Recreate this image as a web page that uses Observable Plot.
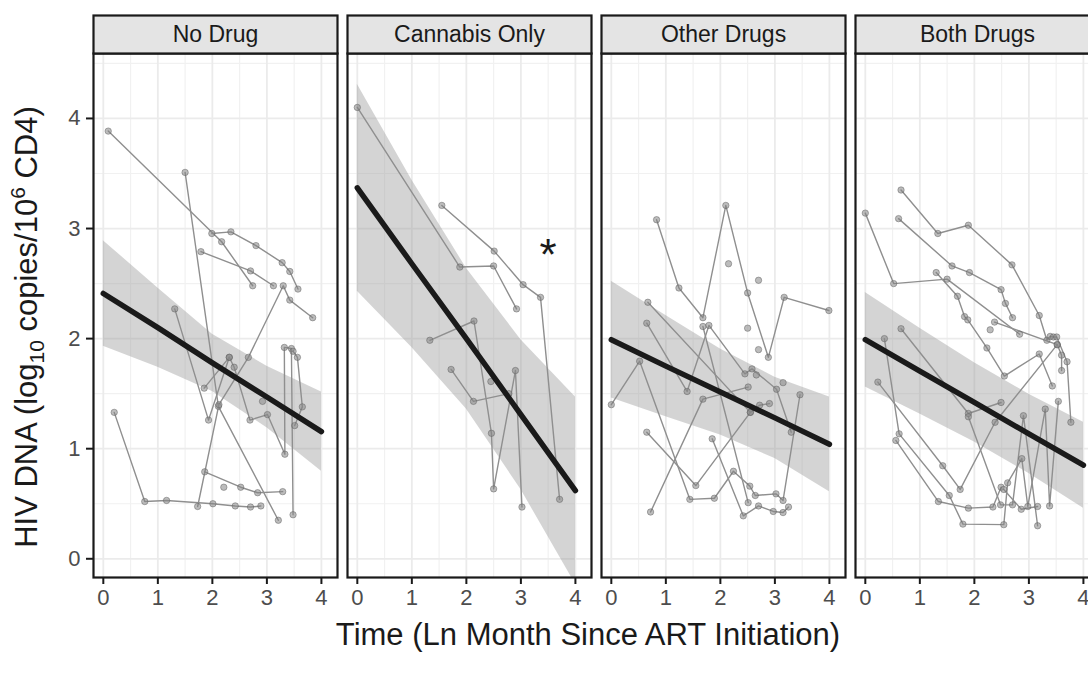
<!DOCTYPE html>
<html><head><meta charset="utf-8">
<script src="https://cdn.jsdelivr.net/npm/d3@7"></script>
<script src="https://cdn.jsdelivr.net/npm/@observablehq/plot@0.6"></script>
<style>
html,body{margin:0;padding:0;overflow:hidden;background:#fff;}
</style></head><body><div id="chart"></div>
<script>
// ---------- data ----------
const facets = ["No Drug", "Cannabis Only", "Other Drugs", "Both Drugs"];
const xTicks = [0, 1, 2, 3, 4];
const yTicks = [0, 1, 2, 3, 4];
const xMinor = [0.5, 1.5, 2.5, 3.5];
const yMinor = [0.5, 1.5, 2.5, 3.5, 4.5];

// individual trajectories [x, y] (ln month, log10 copies)
const noDrugTraj = [
  [[0.09,3.885],[2.17,2.88],[2.74,2.48]],
  [[1.99,2.955],[2.34,2.97],[2.80,2.845],[3.28,2.69],[3.42,2.61],[3.57,2.45]],
  [[1.79,2.79],[2.70,2.615],[3.12,2.48]],
  [[1.50,3.51],[2.11,1.385],[3.21,0.35]],
  [[1.73,0.475],[2.12,1.40],[2.66,1.83],[3.30,2.48],[3.42,2.35],[3.84,2.19]],
  [[0.20,1.33],[0.76,0.52],[1.16,0.53],[2.01,0.50],[2.42,0.48],[2.70,0.47],[2.89,0.48]],
  [[1.86,0.79],[2.52,0.65],[2.83,0.60],[3.29,0.61]],
  [[1.31,2.27],[1.93,1.26],[2.31,1.83]],
  [[1.85,1.55],[2.31,1.83],[2.40,1.74],[2.69,1.26],[3.01,1.31],[3.33,0.95],[3.32,1.92],[3.45,1.91],[3.48,0.40]],
  [[3.48,1.885],[3.56,1.83],[3.65,1.38],[3.51,1.21]]
];
const noDrugSingles = [[2.21,0.65],[2.92,1.43]];

const cannabisTraj = [
  [[0,4.10],[1.88,2.65],[2.50,2.66],[2.92,2.27]],
  [[1.55,3.21],[2.51,2.795],[3.04,2.49],[3.36,2.375],[3.71,0.54]],
  [[1.33,1.985],[2.14,2.16],[2.46,1.14],[2.50,0.635],[2.90,1.71],[3.02,0.47]],
  [[1.72,1.72],[2.13,1.43],[2.78,1.50]]
];
const cannabisSingles = [[2.45,1.61]];

const otherTraj = [
  [[0.83,3.08],[1.24,2.46],[1.68,2.19],[2.10,3.21],[2.50,2.415],[2.88,1.83],[3.17,2.375],[3.99,2.255]],
  [[0,1.40],[0.52,1.795],[1.44,0.54],[1.89,0.55],[2.24,0.795],[2.54,0.66],[2.64,0.575],[3.02,0.59],[3.15,0.53],[3.46,1.49]],
  [[0.65,2.14],[1.39,1.52],[1.79,2.12],[2.45,1.68],[2.58,1.725],[3.03,1.54],[3.30,1.15]],
  [[1.68,2.11],[2.51,0.51]],
  [[0.67,2.33],[2.55,1.33],[2.72,1.395],[2.90,1.41]],
  [[0.72,0.425],[1.68,1.45],[2.51,1.56]],
  [[0.65,1.15],[1.55,0.665],[2.55,1.33]],
  [[1.85,1.09],[2.42,0.39],[2.70,0.48],[2.97,0.43],[3.15,0.42],[3.25,0.47]]
];
const otherSingles = [[2.15,2.68],[2.70,2.53],[2.50,2.095],[2.70,1.90],[3.15,1.60],[2.66,1.67]];

const bothTraj = [
  [[0,3.14],[0.52,2.50],[1.50,2.54],[2.83,2.04]],
  [[0.655,3.35],[1.33,2.955],[1.89,3.03],[2.69,2.67],[3.19,2.21],[3.33,1.985],[3.39,2.02],[3.45,2.015],[3.51,2.015],[3.70,1.79],[3.77,1.24]],
  [[0.61,3.09],[1.59,2.66],[1.91,2.60],[2.49,2.445],[2.57,2.32],[2.70,2.19]],
  [[1.30,2.60],[1.69,2.385],[1.82,2.20],[1.88,2.17],[2.23,1.915],[2.55,1.66],[3.19,1.86],[3.43,1.57]],
  [[2.37,2.15],[3.52,1.945],[3.60,1.85],[3.60,1.71]],
  [[0.655,2.09],[1.89,1.32],[2.49,1.42]],
  [[0.35,2.0],[0.62,1.135],[1.54,0.575],[1.79,0.315],[2.54,0.31],[2.61,0.69],[2.87,0.91],[2.98,0.475],[3.30,1.36],[3.38,0.48],[3.54,1.43]],
  [[0.23,1.605],[1.42,0.845],[1.74,0.63],[2.38,1.24],[3.52,1.945]],
  [[0.56,1.075],[1.34,0.52],[1.89,0.46],[2.34,0.47],[2.49,0.65]],
  [[1.89,1.29],[2.48,0.49],[2.70,0.49],[2.90,1.30],[3.16,0.30]],
  [[2.54,0.63],[2.86,0.45],[3.16,0.475]]
];
const bothSingles = [[2.29,2.08]];

// fitted line and confidence band at these x values
const fitX = [0, 1, 2, 3, 4];
const fitNoDrug   = [2.41, 2.10, 1.78, 1.47, 1.155];
const loNoDrug    = [1.93, 1.74, 1.52, 1.19, 0.795];
const hiNoDrug    = [2.89, 2.46, 2.04, 1.75, 1.515];
const fitCannabis = [3.37, 2.68, 2.00, 1.31, 0.62];
const loCannabis  = [2.43, 1.92, 1.36, 0.63, -0.23];
const hiCannabis  = [4.31, 3.44, 2.64, 1.99, 1.47];
const fitOther    = [1.99, 1.75, 1.515, 1.28, 1.04];
const loOther     = [1.46, 1.29, 1.125, 0.91, 0.61];
const hiOther     = [2.52, 2.21, 1.905, 1.65, 1.47];
const fitBoth     = [1.99, 1.705, 1.42, 1.135, 0.85];
const loBoth      = [1.56, 1.315, 1.06, 0.775, 0.46];
const hiBoth      = [2.42, 2.095, 1.78, 1.495, 1.24];

// significance marker
const starFacet = ["Cannabis Only"];
const starX = [3.5];
const starY = [2.85];

// ---------- tables ----------
const lineRows = [], dotRows = [], fitRows = [];
function addPanel(facet, trajs, singles, fit, lo, hi) {
  trajs.forEach((t, i) => t.forEach(([x, y]) => {
    lineRows.push({facet, id: facet + i, x, y});
    dotRows.push({facet, x, y});
  }));
  singles.forEach(([x, y]) => dotRows.push({facet, x, y}));
  fitX.forEach((x, i) => fitRows.push({facet, x, fit: fit[i], lo: lo[i], hi: hi[i]}));
}
addPanel(facets[0], noDrugTraj, noDrugSingles, fitNoDrug, loNoDrug, hiNoDrug);
addPanel(facets[1], cannabisTraj, cannabisSingles, fitCannabis, loCannabis, hiCannabis);
addPanel(facets[2], otherTraj, otherSingles, fitOther, loOther, hiOther);
addPanel(facets[3], bothTraj, bothSingles, fitBoth, loBoth, hiBoth);
const starRows = starFacet.map((f, i) => ({facet: f, x: starX[i], y: starY[i]}));

// ---------- plot ----------
const W = 1101, H = 677, mL = 91, mT = 53, mB = 100;
const innerH = H - mT - mB;
const font = "'Liberation Sans', Arial, Helvetica, sans-serif";

const chart = Plot.plot({
  width: W, height: H,
  marginLeft: mL, marginRight: 0, marginTop: mT, marginBottom: mB,
  style: {fontFamily: font, background: "white", maxWidth: "none", overflow: "visible"},
  fx: {domain: facets, paddingInner: 0.0392, paddingOuter: 0, axis: null, label: null},
  x: {domain: [-0.18, 4.295], label: null},
  y: {domain: [-0.17, 4.59], label: null},
  marks: [
    Plot.gridX(xMinor, {stroke: "#f1f1f1", strokeOpacity: 1, strokeWidth: 1.2}),
    Plot.gridY(yMinor, {stroke: "#f1f1f1", strokeOpacity: 1, strokeWidth: 1.2}),
    Plot.gridX(xTicks, {stroke: "#ebebeb", strokeOpacity: 1, strokeWidth: 1.8}),
    Plot.gridY(yTicks, {stroke: "#ebebeb", strokeOpacity: 1, strokeWidth: 1.8}),
    Plot.areaY(fitRows, {fx: "facet", x: "x", y1: "lo", y2: "hi", fill: "#999999", fillOpacity: 0.42, clip: true}),
    Plot.line(lineRows, {fx: "facet", x: "x", y: "y", z: "id", stroke: "#8f8f8f", strokeWidth: 1.4, curve: "linear"}),
    Plot.dot(dotRows, {fx: "facet", x: "x", y: "y", r: 3.2, fill: "#858585", fillOpacity: 0.55, stroke: "#5f5f5f", strokeOpacity: 0.6, strokeWidth: 0.8}),
    Plot.line(fitRows, {fx: "facet", x: "x", y: "fit", stroke: "#1a1a1a", strokeWidth: 5.5, clip: true}),
    Plot.frame({stroke: "#1a1a1a", strokeWidth: 2.2}),
    Plot.frame({fill: "#e4e4e4", stroke: "#1a1a1a", strokeWidth: 2.2, insetTop: -38, insetBottom: innerH}),
    Plot.text(facets, {fx: d => d, text: d => d, frameAnchor: "top", lineAnchor: "middle", dy: -19, fontSize: 23, fill: "#1a1a1a"}),
    Plot.text(starRows, {fx: "facet", x: "x", y: "y", text: () => "*", fontSize: 44, fill: "#1a1a1a", lineAnchor: "middle", dy: 11}),
    Plot.axisX(xTicks, {tickSize: 7, tickPadding: 5, fontSize: 22, fill: "#4d4d4d", stroke: "#1a1a1a", strokeWidth: 2, label: null, tickFormat: d3.format("d")}),
    Plot.axisY(yTicks, {tickSize: 7, tickPadding: 6, fontSize: 22, fill: "#4d4d4d", stroke: "#1a1a1a", strokeWidth: 2, label: null, tickFormat: d3.format("d")})
  ]
});

document.getElementById("chart").appendChild(chart);
const svg = d3.select(chart);

// x-axis title
svg.append("text")
  .attr("x", 588).attr("y", 645)
  .attr("text-anchor", "middle")
  .attr("fill", "#1a1a1a")
  .style("font-family", font).style("font-size", "31px")
  .text("Time (Ln Month Since ART Initiation)");

// y-axis title with subscript and superscript
const yt = svg.append("text")
  .attr("transform", "translate(37,327) rotate(-90)")
  .attr("text-anchor", "middle")
  .attr("fill", "#1a1a1a")
  .style("font-family", font).style("font-size", "31px");
yt.append("tspan").text("HIV DNA (log");
yt.append("tspan").attr("dy", 7).style("font-size", "21px").text("10");
yt.append("tspan").attr("dy", -7).text(" copies/10");
yt.append("tspan").attr("dy", -12).style("font-size", "21px").text("6");
yt.append("tspan").attr("dy", 12).text(" CD4)");
</script>
</body></html>
